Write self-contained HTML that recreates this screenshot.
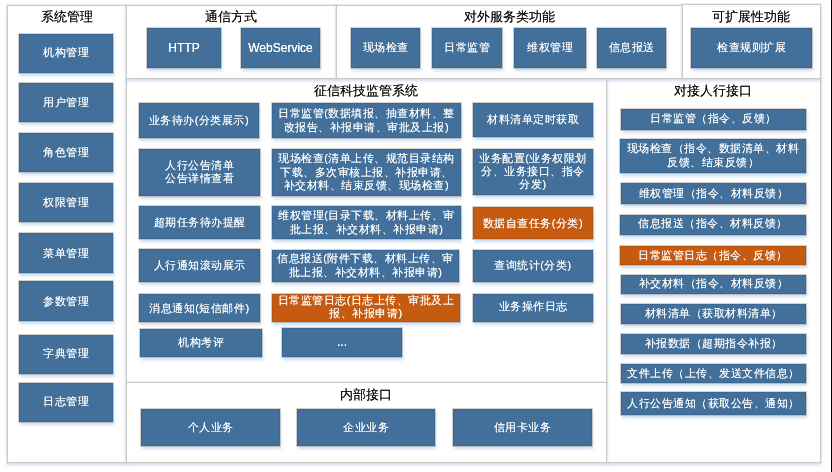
<!DOCTYPE html><html><head><meta charset="utf-8"><style>
*{margin:0;padding:0;box-sizing:border-box}
html,body{width:832px;height:472px;overflow:hidden;background:#fff}
body{position:relative;font-family:"Liberation Sans",sans-serif}
.p{position:absolute;background:#fff;border:1px solid #cacaca;box-shadow:0 0 0 1px rgba(215,218,224,.45),0 2px 3px rgba(160,195,228,.55)}
.t{position:absolute;text-align:center;font-size:13px;color:#000;line-height:14px;white-space:nowrap;will-change:transform;text-shadow:0 0 .5px rgba(0,0,0,.6)}
.x{position:absolute;display:flex;align-items:center;justify-content:center;text-align:center;color:#fff;font-size:11px;letter-spacing:0.5px;white-space:nowrap;will-change:transform;text-shadow:0 0 .5px rgba(255,255,255,.7);box-shadow:0 0 0 1px rgba(150,140,130,.4),1px 3px 3px rgba(140,180,220,.45)}
.x span{display:block;position:relative}
.b{background:#42709b;border:1px solid #3b6892}
.o{background:#c55a11;border:1px solid #b8530f}
.edge{position:absolute;left:831px;top:0;width:1px;height:472px;background:#000}
</style></head><body>
<div class="p" style="left:7px;top:5px;width:120px;height:458px"></div>
<div class="p" style="left:606px;top:78px;width:215px;height:385px"></div>
<div class="p" style="left:126px;top:78px;width:481px;height:305px"></div>
<div class="p" style="left:126px;top:382px;width:481px;height:81px"></div>
<div class="p" style="left:126px;top:5px;width:211px;height:74px"></div>
<div class="p" style="left:336px;top:5px;width:347px;height:74px"></div>
<div class="p" style="left:682px;top:4px;width:139px;height:75px"></div>
<div class="t" style="left:7px;width:119px;top:10px">系统管理</div>
<div class="t" style="left:126px;width:210px;top:10px">通信方式</div>
<div class="t" style="left:336px;width:346px;top:10px">对外服务类功能</div>
<div class="t" style="left:682px;width:138px;top:10px">可扩展性功能</div>
<div class="t" style="left:126px;width:480px;top:84px">征信科技监管系统</div>
<div class="t" style="left:606px;width:214px;top:84px">对接人行接口</div>
<div class="t" style="left:126px;width:480px;top:388px">内部接口</div>
<div class="x b" style="left:19px;top:34px;width:94px;height:39px;"><span style="top:-2px;line-height:14px">机构管理</span></div>
<div class="x b" style="left:19px;top:83px;width:94px;height:39px;"><span style="top:-1px;line-height:14px">用户管理</span></div>
<div class="x b" style="left:19px;top:133px;width:94px;height:39px;"><span style="top:-1px;line-height:14px">角色管理</span></div>
<div class="x b" style="left:19px;top:183px;width:94px;height:39px;"><span style="top:-1px;line-height:14px">权限管理</span></div>
<div class="x b" style="left:19px;top:233px;width:94px;height:40px;"><span style="top:0px;line-height:14px">菜单管理</span></div>
<div class="x b" style="left:19px;top:281px;width:94px;height:40px;"><span style="top:0px;line-height:14px">参数管理</span></div>
<div class="x b" style="left:19px;top:335px;width:94px;height:39px;"><span style="top:-2px;line-height:14px">字典管理</span></div>
<div class="x b" style="left:19px;top:383px;width:94px;height:39px;"><span style="top:-2px;line-height:14px">日志管理</span></div>
<div class="x b" style="left:147px;top:28px;width:74px;height:40px;font-size:12px;letter-spacing:0;text-shadow:0 0 .6px #fff;"><span style="top:0px;line-height:14px">HTTP</span></div>
<div class="x b" style="left:241px;top:28px;width:79px;height:40px;font-size:12px;letter-spacing:0;text-shadow:0 0 .6px #fff;"><span style="top:0px;line-height:14px">WebService</span></div>
<div class="x b" style="left:351px;top:28px;width:69px;height:40px;"><span style="top:-1px;line-height:14px">现场检查</span></div>
<div class="x b" style="left:432px;top:28px;width:70px;height:40px;"><span style="top:-1px;line-height:14px">日常监管</span></div>
<div class="x b" style="left:514px;top:28px;width:72px;height:40px;"><span style="top:-1px;line-height:14px">维权管理</span></div>
<div class="x b" style="left:597px;top:28px;width:69px;height:40px;"><span style="top:-1px;line-height:14px">信息报送</span></div>
<div class="x b" style="left:691px;top:28px;width:121px;height:40px;"><span style="top:-1px;line-height:14px">检查规则扩展</span></div>
<div class="x b" style="left:139px;top:103px;width:120px;height:35px;"><span style="top:-1px;line-height:14px">业务待办(分类展示)</span></div>
<div class="x b" style="left:139px;top:149px;width:121px;height:47px;"><span style="top:-1px;line-height:13px">人行公告清单<br>公告详情查看</span></div>
<div class="x b" style="left:139px;top:206px;width:121px;height:33px;"><span style="top:-1px;line-height:14px">超期任务待办提醒</span></div>
<div class="x b" style="left:139px;top:249px;width:121px;height:33px;"><span style="top:-1px;line-height:14px">人行通知滚动展示</span></div>
<div class="x b" style="left:139px;top:294px;width:121px;height:28px;"><span style="top:0px;line-height:14px">消息通知(短信邮件)</span></div>
<div class="x b" style="left:140px;top:329px;width:122px;height:28px;"><span style="top:-1px;line-height:14px">机构考评</span></div>
<div class="x b" style="left:272px;top:103px;width:189px;height:35px;"><span style="top:-1px;line-height:14px">日常监管(数据填报、抽查材料、整<br>改报告、补报申请、审批及上报)</span></div>
<div class="x b" style="left:272px;top:149px;width:189px;height:47px;"><span style="top:0px;line-height:13.6px">现场检查(清单上传、规范目录结构<br>下载、多次审核上报、补报申请、<br>补交材料、结束反馈、现场检查)</span></div>
<div class="x b" style="left:272px;top:206px;width:189px;height:33px;"><span style="top:-1px;line-height:14px">维权管理(目录下载、材料上传、审<br>批上报、补交材料、补报申请)</span></div>
<div class="x b" style="left:272px;top:250px;width:187px;height:32px;"><span style="top:-1px;line-height:14px">信息报送(附件下载、材料上传、审<br>批上报、补交材料、补报申请)</span></div>
<div class="x o" style="left:272px;top:294px;width:188px;height:28px;"><span style="top:-1px;line-height:13px">日常监管日志(日志上传、审批及上<br>报、补报申请)</span></div>
<div class="x b" style="left:282px;top:328px;width:120px;height:29px;font-size:12px;letter-spacing:0;text-shadow:0 0 .6px #fff;"><span style="top:-1px;line-height:14px">...</span></div>
<div class="x b" style="left:473px;top:103px;width:120px;height:34px;"><span style="top:-1px;line-height:14px">材料清单定时获取</span></div>
<div class="x b" style="left:473px;top:149px;width:120px;height:46px;"><span style="top:-1px;line-height:13px">业务配置(业务权限划<br>分、业务接口、指令<br>分发)</span></div>
<div class="x o" style="left:473px;top:207px;width:120px;height:32px;"><span style="top:0px;line-height:14px">数据自查任务(分类)</span></div>
<div class="x b" style="left:473px;top:250px;width:120px;height:32px;"><span style="top:-1px;line-height:14px">查询统计(分类)</span></div>
<div class="x b" style="left:473px;top:294px;width:120px;height:28px;"><span style="top:-2px;line-height:14px">业务操作日志</span></div>
<div class="x b" style="left:141px;top:409px;width:139px;height:37px;"><span style="top:-1px;line-height:14px">个人业务</span></div>
<div class="x b" style="left:297px;top:409px;width:138px;height:37px;"><span style="top:-1px;line-height:14px">企业业务</span></div>
<div class="x b" style="left:453px;top:409px;width:139px;height:37px;"><span style="top:-1px;line-height:14px">信用卡业务</span></div>
<div class="x b" style="left:621px;top:109px;width:185px;height:21px;"><span style="top:-2px;line-height:14px">日常监管（指令、反馈）</span></div>
<div class="x b" style="left:620px;top:139px;width:186px;height:34px;"><span style="top:0px;line-height:13.7px">现场检查（指令、数据清单、材料<br>反馈、结束反馈）</span></div>
<div class="x b" style="left:621px;top:183px;width:185px;height:21px;"><span style="top:-1px;line-height:14px">维权管理（指令、材料反馈）</span></div>
<div class="x b" style="left:620px;top:215px;width:186px;height:20px;"><span style="top:-2px;line-height:14px">信息报送（指令、材料反馈）</span></div>
<div class="x o" style="left:620px;top:246px;width:186px;height:19px;"><span style="top:-1px;line-height:14px">日常监管日志（指令、反馈）</span></div>
<div class="x b" style="left:621px;top:275px;width:185px;height:19px;"><span style="top:-2px;line-height:14px">补交材料（指令、材料反馈）</span></div>
<div class="x b" style="left:621px;top:304px;width:185px;height:20px;"><span style="top:-1px;line-height:14px">材料清单（获取材料清单）</span></div>
<div class="x b" style="left:621px;top:334px;width:185px;height:20px;"><span style="top:-1px;line-height:14px">补报数据（超期指令补报）</span></div>
<div class="x b" style="left:621px;top:364px;width:185px;height:19px;"><span style="top:-1px;line-height:14px">文件上传（上传、发送文件信息）</span></div>
<div class="x b" style="left:621px;top:392px;width:185px;height:23px;"><span style="top:-1px;line-height:14px">人行公告通知（获取公告、通知）</span></div>
<div class="edge"></div></body></html>
